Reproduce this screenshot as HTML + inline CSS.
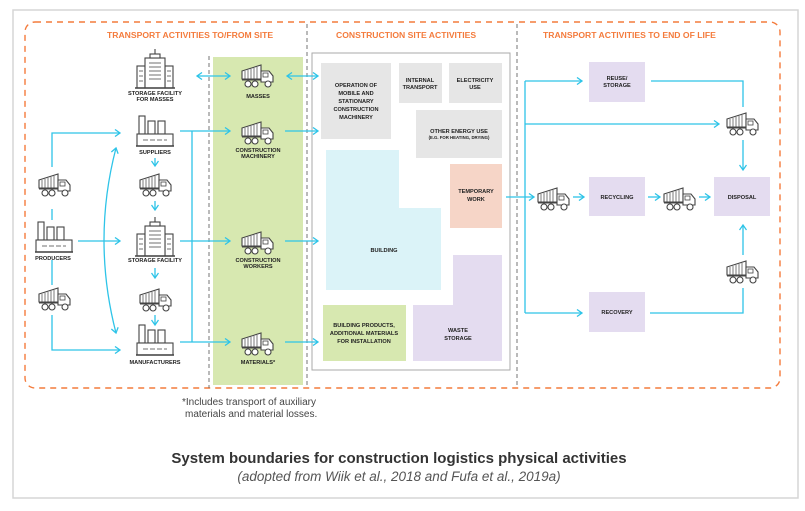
<!DOCTYPE html>
<html><head><meta charset="utf-8"><style>
html,body{margin:0;padding:0;background:#fff;}
svg{display:block;}
text{font-family:"Liberation Sans",sans-serif;}
.l{font-size:5.6px;font-weight:bold;fill:#222;text-anchor:middle;}
.t{font-size:8.6px;font-weight:bold;fill:#f47b3c;}
</style></head><body>
<svg width="805" height="511" viewBox="0 0 805 511" xmlns="http://www.w3.org/2000/svg">
<defs>
<g id="truck" fill="#fff" stroke="#444" stroke-width="1.1">
<polygon points="1,8 20,2 20,16 1,16"/>
<path d="M4,8v8M7,7v9M10,6v10M13,5v11M16,4v12" stroke-width="0.7"/>
<polygon points="20,8 28,8 32,13 32,19 20,19"/>
<rect x="22" y="10" width="5" height="4" stroke-width="0.8"/>
<line x1="1" y1="17" x2="20" y2="17"/>
<circle cx="7" cy="21" r="3"/><circle cx="14" cy="21" r="3"/><circle cx="27" cy="21" r="3"/>
</g>
<g id="tower" fill="#fff" stroke="#444" stroke-width="1.1">
<rect x="0" y="14" width="8" height="22"/>
<rect x="28" y="14" width="8" height="22"/>
<rect x="8" y="6" width="20" height="30"/>
<rect x="13" y="2" width="10" height="4"/>
<line x1="18" y1="-3" x2="18" y2="2"/>
<path d="M12,11h12M12,15h12M12,19h12M12,23h12M12,27h12M2,19h4M2,24h4M2,29h4M30,19h4M30,24h4M30,29h4" stroke-width="0.8"/>
<line x1="-2" y1="36" x2="38" y2="36" stroke-width="1.6"/>
</g>
<g id="fact" fill="#fff" stroke="#444" stroke-width="1.1">
<rect x="2" y="0" width="6" height="18"/>
<rect x="11" y="5" width="7" height="13"/>
<rect x="21" y="5" width="7" height="13"/>
<rect x="0" y="18" width="36" height="12"/>
<path d="M6,24h24" stroke-dasharray="5,2" stroke-width="0.8"/>
<line x1="-1" y1="30" x2="37" y2="30" stroke-width="1.6"/>
</g>
<marker id="a" markerWidth="8" markerHeight="8" refX="6" refY="4" orient="auto" markerUnits="userSpaceOnUse"><path d="M1,0.5L6,4L1,7.5" fill="none" stroke="#2ec4e8" stroke-width="1.3"/></marker>
<marker id="b" markerWidth="8" markerHeight="8" refX="2" refY="4" orient="auto" markerUnits="userSpaceOnUse"><path d="M7,0.5L2,4L7,7.5" fill="none" stroke="#2ec4e8" stroke-width="1.3"/></marker>
</defs>
<rect x="13" y="10" width="785" height="488" fill="#fff" stroke="#d6d6d6" stroke-width="1.5"/>
<rect x="213" y="57" width="90" height="328" fill="#d7e8b0"/>
<rect x="25" y="22" width="755" height="366" rx="10" fill="none" stroke="#f47b3c" stroke-width="1.4" stroke-dasharray="6,5"/>
<g stroke="#666" stroke-width="0.9" stroke-dasharray="4,3">
<line x1="209" y1="56" x2="209" y2="388"/>
<line x1="307" y1="24" x2="307" y2="388"/>
<line x1="517" y1="24" x2="517" y2="388"/>
</g>
<text class="t" x="107" y="38">TRANSPORT ACTIVITIES TO/FROM SITE</text>
<text class="t" x="336" y="38">CONSTRUCTION SITE ACTIVITIES</text>
<text class="t" x="543" y="38">TRANSPORT ACTIVITIES TO END OF LIFE</text>
<rect x="312" y="53" width="198" height="317" fill="#fff" stroke="#aaa" stroke-width="1"/>
<rect x="321" y="63" width="70" height="76" fill="#e6e6e6"/>
<rect x="399" y="63" width="43" height="40" fill="#e6e6e6"/>
<rect x="449" y="63" width="53" height="40" fill="#e6e6e6"/>
<rect x="416" y="110" width="86" height="48" fill="#e6e6e6"/>
<polygon points="326,150 399,150 399,208 441,208 441,290 326,290" fill="#dbf3f8"/>
<rect x="450" y="164" width="52" height="64" fill="#f6d5c7"/>
<polygon points="453,255 502,255 502,361 413,361 413,305 453,305" fill="#e4dcf0"/>
<rect x="323" y="305" width="83" height="56" fill="#d7e8b0"/>
<text class="l"><tspan x="356" y="87">OPERATION OF</tspan><tspan x="356" y="95">MOBILE AND</tspan><tspan x="356" y="103">STATIONARY</tspan><tspan x="356" y="111">CONSTRUCTION</tspan><tspan x="356" y="119">MACHINERY</tspan></text>
<text class="l"><tspan x="420" y="82">INTERNAL</tspan><tspan x="420" y="89">TRANSPORT</tspan></text>
<text class="l"><tspan x="475" y="82">ELECTRICITY</tspan><tspan x="475" y="89">USE</tspan></text>
<text class="l"><tspan x="459" y="133">OTHER ENERGY USE</tspan><tspan x="459" y="139" style="font-size:4.3px">(E.G. FOR HEATING, DRYING)</tspan></text>
<text class="l"><tspan x="476" y="193">TEMPORARY</tspan><tspan x="476" y="201">WORK</tspan></text>
<text class="l" x="384" y="252">BUILDING</text>
<text class="l"><tspan x="458" y="332">WASTE</tspan><tspan x="458" y="340">STORAGE</tspan></text>
<text class="l"><tspan x="364" y="327">BUILDING PRODUCTS,</tspan><tspan x="364" y="335">ADDITIONAL MATERIALS</tspan><tspan x="364" y="343">FOR INSTALLATION</tspan></text>
<rect x="589" y="62" width="56" height="40" fill="#e4dcf0"/>
<rect x="589" y="177" width="56" height="39" fill="#e4dcf0"/>
<rect x="714" y="177" width="56" height="39" fill="#e4dcf0"/>
<rect x="589" y="292" width="56" height="40" fill="#e4dcf0"/>
<text class="l"><tspan x="617" y="80">REUSE/</tspan><tspan x="617" y="87">STORAGE</tspan></text>
<text class="l" x="617" y="199">RECYCLING</text>
<text class="l" x="742" y="199">DISPOSAL</text>
<text class="l" x="617" y="314">RECOVERY</text>
<g fill="none" stroke="#2ec4e8" stroke-width="1.3">
<path d="M52,167V133H120" marker-end="url(#a)"/>
<path d="M52,315V350H120" marker-end="url(#a)"/>
<path d="M52,209V220M52,260V285"/>
<path d="M78,241H120" marker-end="url(#a)"/>
<path d="M116,148Q92,240 116,333" marker-start="url(#b)" marker-end="url(#a)"/>
<path d="M155,158V166" marker-end="url(#a)"/>
<path d="M155,201V210" marker-end="url(#a)"/>
<path d="M155,268V278" marker-end="url(#a)"/>
<path d="M155,315V325" marker-end="url(#a)"/>
<path d="M192,131V342"/>
<path d="M180,131H230" marker-end="url(#a)"/>
<path d="M180,241H230" marker-end="url(#a)"/>
<path d="M180,342H230" marker-end="url(#a)"/>
<path d="M197,76H230" marker-start="url(#b)" marker-end="url(#a)"/>
<path d="M287,76H318" marker-start="url(#b)" marker-end="url(#a)"/>
<path d="M285,131H318" marker-end="url(#a)"/>
<path d="M285,241H318" marker-end="url(#a)"/>
<path d="M285,342H318" marker-end="url(#a)"/>
<path d="M506,197H534" marker-end="url(#a)"/>
<path d="M525,81V313"/>
<path d="M525,81H582" marker-end="url(#a)"/>
<path d="M525,124H719" marker-end="url(#a)"/>
<path d="M525,313H582" marker-end="url(#a)"/>
<path d="M573,197H584" marker-end="url(#a)"/>
<path d="M648,197H660" marker-end="url(#a)"/>
<path d="M699,197H710" marker-end="url(#a)"/>
<path d="M651,81H743V107"/>
<path d="M743,140V170" marker-end="url(#a)"/>
<path d="M650,313H743V288"/>
<path d="M743,255V225" marker-end="url(#a)"/>
</g>
<use href="#tower" x="137" y="52"/>
<use href="#fact" x="137" y="116"/>
<use href="#truck" x="139" y="172"/>
<use href="#tower" x="137" y="220"/>
<use href="#truck" x="139" y="287"/>
<use href="#fact" x="137" y="325"/>
<use href="#truck" x="38" y="172"/>
<use href="#fact" x="36" y="222"/>
<use href="#truck" x="38" y="286"/>
<use href="#truck" x="241" y="63"/>
<use href="#truck" x="241" y="120"/>
<use href="#truck" x="241" y="230"/>
<use href="#truck" x="241" y="331"/>
<use href="#truck" x="537" y="186"/>
<use href="#truck" x="663" y="186"/>
<use href="#truck" x="726" y="111"/>
<use href="#truck" x="726" y="259"/>
<text class="l"><tspan x="155" y="95">STORAGE FACILITY</tspan><tspan x="155" y="101">FOR MASSES</tspan></text>
<text class="l" x="155" y="154">SUPPLIERS</text>
<text class="l" x="155" y="262">STORAGE FACILITY</text>
<text class="l" x="155" y="364">MANUFACTURERS</text>
<text class="l" x="53" y="260">PRODUCERS</text>
<text class="l" x="258" y="98">MASSES</text>
<text class="l"><tspan x="258" y="152">CONSTRUCTION</tspan><tspan x="258" y="158">MACHINERY</tspan></text>
<text class="l"><tspan x="258" y="262">CONSTRUCTION</tspan><tspan x="258" y="268">WORKERS</tspan></text>
<text class="l" x="258" y="364">MATERIALS*</text>
<text style="font-size:10px;fill:#444" x="182" y="405">*Includes transport of auxiliary</text>
<text style="font-size:10px;fill:#444" x="185" y="417">materials and material losses.</text>
<text x="399" y="463" text-anchor="middle" style="font-size:15px;font-weight:bold;fill:#333">System boundaries for construction logistics physical activities</text>
<text x="399" y="481" text-anchor="middle" style="font-size:13.5px;font-style:italic;fill:#555">(adopted from Wiik et al., 2018 and Fufa et al., 2019a)</text>
</svg>
</body></html>
